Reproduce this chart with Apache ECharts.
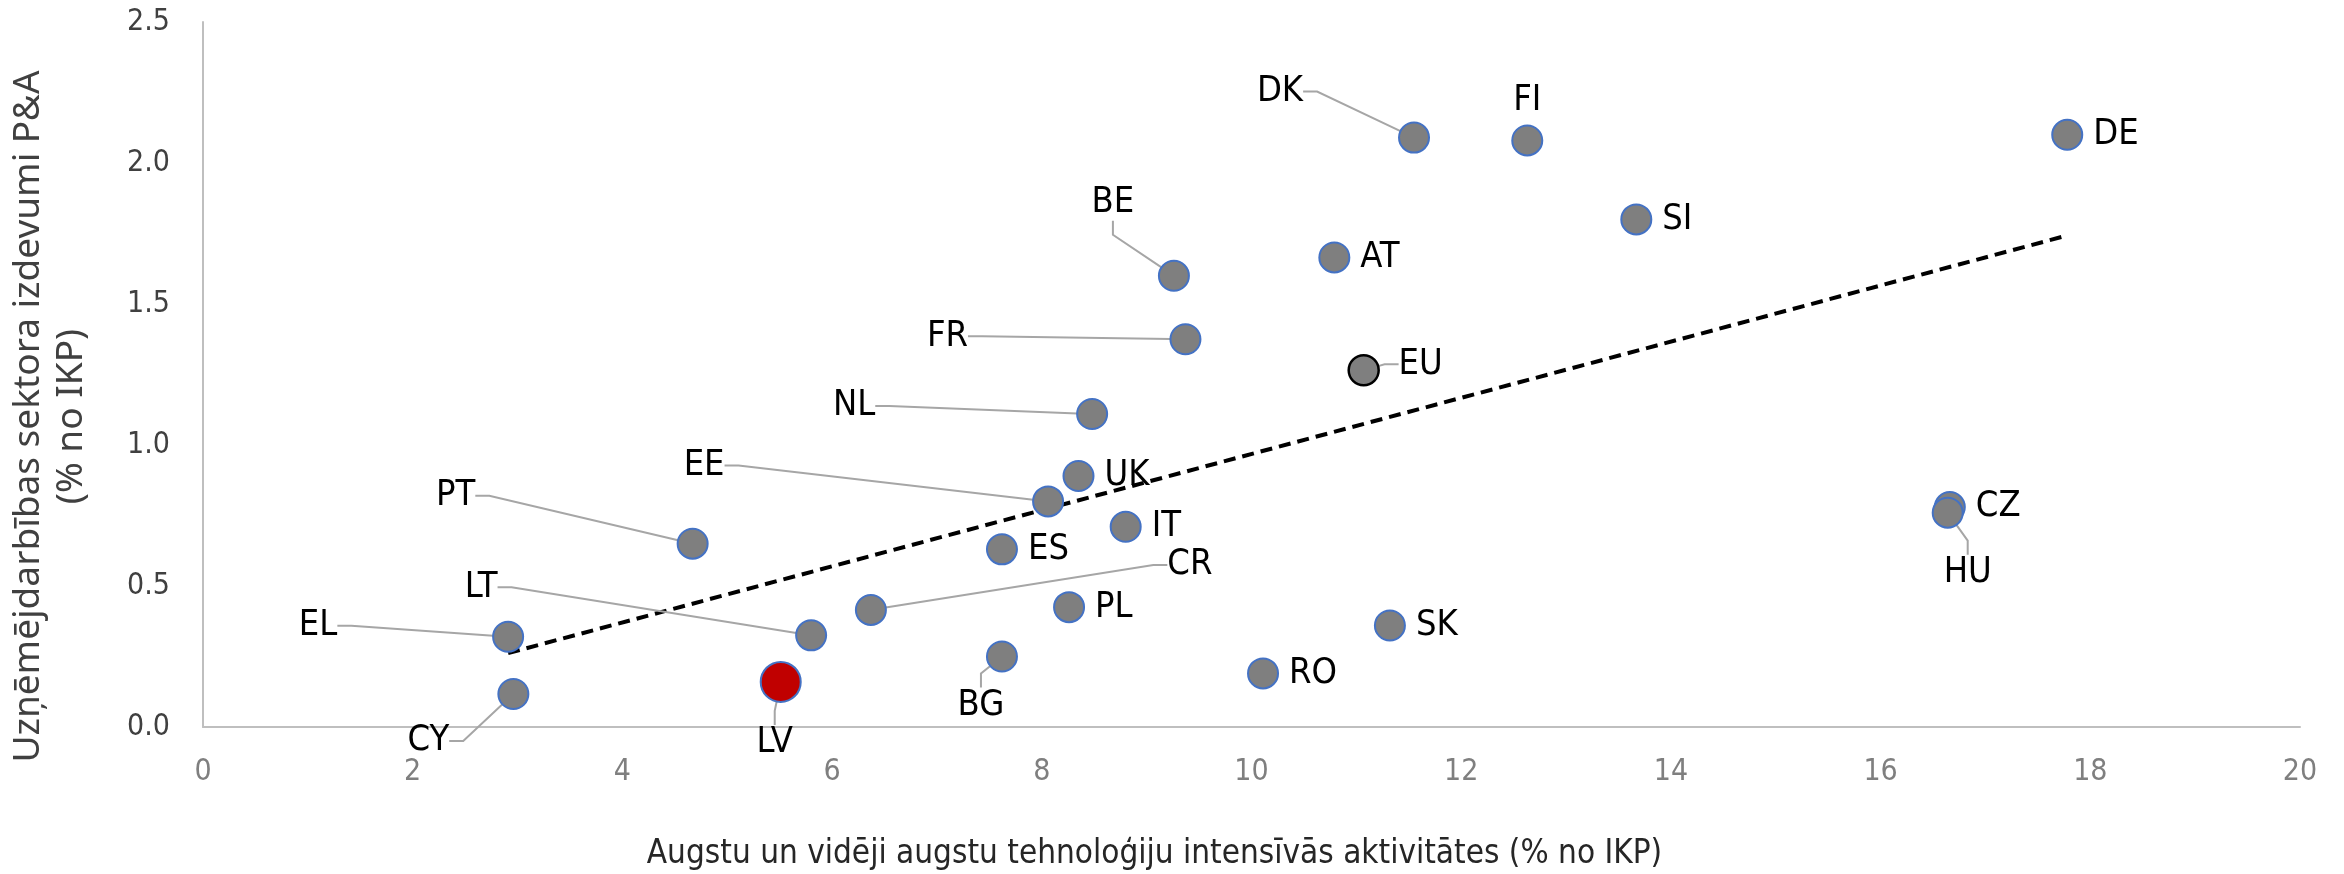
<!DOCTYPE html>
<html>
<head>
<meta charset="utf-8">
<script src="https://cdn.jsdelivr.net/npm/echarts@6/dist/echarts.min.js"></script>
<style>
  html, body { margin: 0; padding: 0; background: #fff; }
  #chart { width: 2344px; height: 874px; }
</style>
</head>
<body>
<div id="chart"></div>
<script>
let countries = ['DK', 'FI', 'DE', 'BE', 'AT', 'SI', 'FR', 'EU', 'NL', 'UK', 'EE', 'IT', 'ES', 'PT',
  'CR', 'PL', 'LT', 'EL', 'SK', 'BG', 'RO', 'CY', 'CZ', 'HU', 'LV']
let techShare = [11.55, 12.63, 17.78, 9.26, 10.79, 13.67, 9.37, 11.07, 8.48, 8.35, 8.06, 8.80, 7.62, 4.67,
  6.37, 8.26, 5.80, 2.91, 11.32, 7.62, 10.11, 2.96, 16.66, 16.64, 5.51]
let businessRD = [2.09, 2.08, 2.10, 1.60, 1.665, 1.80, 1.375, 1.265, 1.11, 0.89, 0.80, 0.71, 0.63, 0.65,
  0.415, 0.425, 0.325, 0.32, 0.36, 0.25, 0.19, 0.117, 0.78, 0.76, 0.16]
let trendX = [2.91, 17.75]
let trendY = [0.262, 1.74]

let xTicks = [0, 20, 2]
let yTicks = [0, 2.5, 0.5]

// label offsets (px) for labels pulled away with a leader line
let leaderOffsets = {
  DK: [-134, -46], BE: [-61, -73], FR: [-238, -3], EU: [57, -6], NL: [-238, -8],
  EE: [-344, -36], PT: [-237, -48], CR: [319, -45], LT: [-330, -48], EL: [-190, -11],
  CY: [-85, 47], LV: [-6, 61], BG: [-21, 49], HU: [20, 60]
}

let narrowFont = "'Liberation Sans Narrow', 'DejaVu Sans Condensed', 'Roboto Condensed', sans-serif"

let points = countries.map((c, i) => {
  let item = { name: c, value: [techShare[i], businessRD[i]] }
  if (leaderOffsets[c]) {
    item.label = { position: 'inside' }
    item.labelLine = { show: true }
  } else if (c === 'FI') {
    item.label = { position: 'top', distance: 6 }
  }
  if (c === 'LV') {
    item.symbolSize = 40
    item.itemStyle = { color: '#C00000' }
  }
  if (c === 'EU') {
    item.itemStyle = { borderColor: '#000000', borderWidth: 2.5 }
  }
  return item
})

let chart = echarts.init(document.getElementById('chart'))
chart.setOption({
  animation: false,
  grid: { left: 203, right: 44, top: 22, bottom: 147, containLabel: false, outerBoundsMode: 'none' },
  xAxis: {
    type: 'value',
    min: xTicks[0], max: xTicks[1], interval: xTicks[2],
    name: 'Augstu un vidēji augstu tehnoloģiju intensīvās aktivitātes (% no IKP)',
    nameLocation: 'middle',
    nameGap: 111,
    nameTextStyle: { fontFamily: narrowFont, fontSize: 33, color: '#262626', padding: [0, 194, 0, 0] },
    axisLine: { lineStyle: { color: '#BFBFBF', width: 2 } },
    axisTick: { show: false },
    splitLine: { show: false },
    axisLabel: { fontFamily: narrowFont, fontSize: 30, color: '#7F7F7F', margin: 30 }
  },
  yAxis: {
    type: 'value',
    min: yTicks[0], max: yTicks[1], interval: yTicks[2],
    name: 'Uzņēmējdarbības sektora izdevumi P&A\n(% no IKP)',
    nameLocation: 'middle',
    nameRotate: 90,
    nameGap: 110,
    nameTextStyle: {
      fontFamily: "'Noto Sans', sans-serif", fontSize: 37, lineHeight: 43, color: '#404040',
      padding: [0, 84, 0, 0]
    },
    axisLine: { show: true, lineStyle: { color: '#BFBFBF', width: 2 } },
    axisTick: { show: false },
    splitLine: { show: false },
    axisLabel: {
      fontFamily: narrowFont, fontSize: 30, color: '#404040', margin: 33,
      formatter: v => v.toFixed(1)
    }
  },
  series: [
    {
      type: 'line',
      data: trendX.map((x, i) => [x, trendY[i]]),
      showSymbol: false,
      symbol: 'none',
      lineStyle: { color: '#000000', width: 4, type: [12, 7] },
      z: 1
    },
    {
      type: 'scatter',
      data: points,
      symbolSize: 30,
      itemStyle: { color: '#7F7F7F', borderColor: '#4472C4', borderWidth: 2, opacity: 1 },
      label: {
        show: true,
        position: 'right',
        distance: 10,
        formatter: p => p.name,
        fontFamily: narrowFont,
        fontSize: 36,
        color: '#000000'
      },
      labelLine: { show: false, length2: 14, lineStyle: { color: '#A6A6A6', width: 2 } },
      labelLayout: function (params) {
        let c = countries[params.dataIndex]
        let off = leaderOffsets[c]
        if (!off) return {}
        return { dx: off[0], dy: off[1] }
      },
      z: 3
    }
  ]
})
</script>
</body>
</html>
